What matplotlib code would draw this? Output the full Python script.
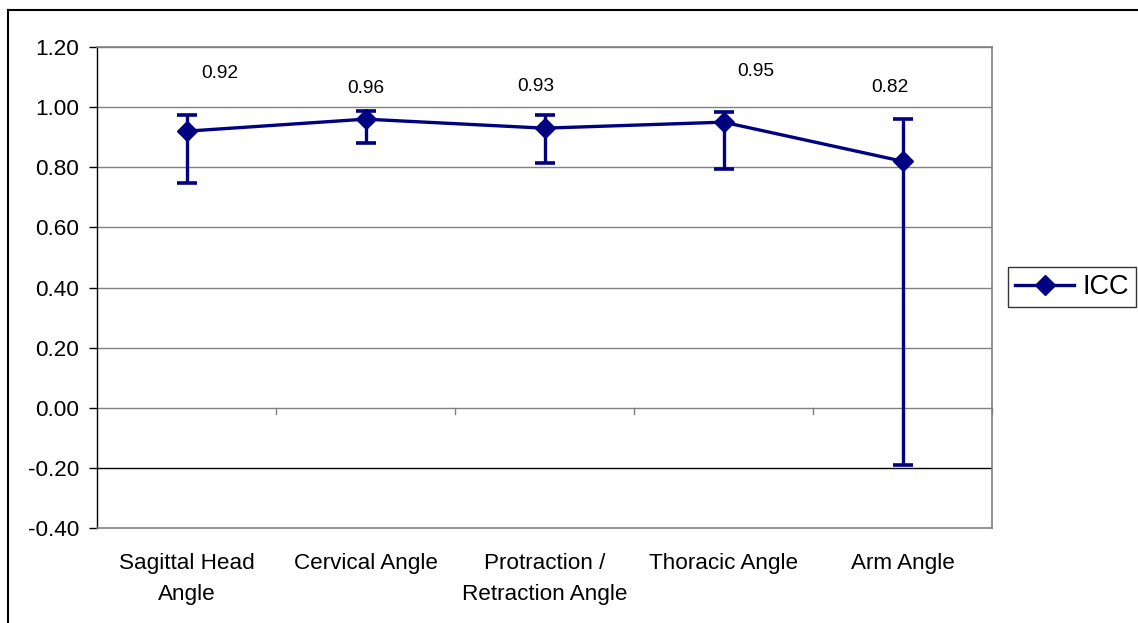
import matplotlib
matplotlib.use("Agg")
import matplotlib.pyplot as plt
from matplotlib.lines import Line2D
import numpy as np

plt.rcParams['font.family'] = ['Liberation Sans', 'DejaVu Sans']
plt.rcParams['axes.unicode_minus'] = False

categories = ["Sagittal Head\nAngle", "Cervical Angle", "Protraction /\nRetraction Angle",
              "Thoracic Angle", "Arm Angle"]
icc = [0.92, 0.96, 0.93, 0.95, 0.82]
ci_upper = [0.974, 0.988, 0.974, 0.983, 0.959]
ci_lower = [0.748, 0.881, 0.813, 0.795, -0.19]
value_labels = ["0.92", "0.96", "0.93", "0.95", "0.82"]
yticks = [-0.40, -0.20, 0.00, 0.20, 0.40, 0.60, 0.80, 1.00, 1.20]

# label placement (layout only)
label_y = [1.112, 1.062, 1.070, 1.117, 1.065]
label_dx = [0.185, 0.0, -0.05, 0.18, -0.07]

navy = "#000080"

fig = plt.figure(figsize=(11.38, 6.23), dpi=100)
ax = fig.add_axes([97/1138, 1-528/623, (992-97)/1138, (528-47)/623])

x = np.arange(len(categories))
yerr = [np.array(icc) - np.array(ci_lower), np.array(ci_upper) - np.array(icc)]

for yv in yticks:
    if yv in (-0.40,):
        continue
    ax.axhline(yv, color="#000000" if yv == -0.20 else "#808080", lw=1.0, zorder=1)

ax.errorbar(x, icc, yerr=yerr, color=navy, lw=2.4, marker='D', markersize=10,
            capsize=7, capthick=2.6, elinewidth=2.4, zorder=3, label="ICC")

for xi, lab, ly, dx in zip(x, value_labels, label_y, label_dx):
    ax.text(xi + dx, ly, lab, ha='center', va='center', fontsize=13.8, color='black')

# category tick marks on axis at 0
for b in np.arange(0.5, len(categories), 1.0):
    ax.plot([b, b], [0, -0.02], color="#808080", lw=1.0, zorder=1, clip_on=False)

ax.set_xlim(-0.5, len(categories) - 0.5)
ax.set_ylim(-0.40, 1.20)
ax.set_yticks(yticks)
ax.set_yticklabels([f"{v:.2f}" for v in yticks], fontsize=16.2)
ax.set_xticks(x)
ax.set_xticklabels(categories, fontsize=16.2, linespacing=1.6)
ax.tick_params(axis='x', length=0, pad=18)
ax.tick_params(axis='y', length=6, width=1.0, pad=7, color='black', direction='out')

for side in ('top', 'right', 'bottom'):
    ax.spines[side].set_color("#808080")
    ax.spines[side].set_linewidth(1.2)
ax.spines['left'].set_color('black')
ax.spines['left'].set_linewidth(1.0)

handles = [Line2D([0], [0], color=navy, lw=2.4, marker='D', markersize=10)]
leg = fig.legend(handles, ["ICC"], loc='center', bbox_to_anchor=(1072/1138, 1-287/623),
                 fontsize=19.5, frameon=True, fancybox=False, handlelength=2.2,
                 handletextpad=0.3, borderpad=0.25, borderaxespad=0)
leg.get_frame().set_edgecolor('black')
leg.get_frame().set_linewidth(1.0)

# outer chart frame
fig.add_artist(Line2D([8/1138, 8/1138], [0, 1-10/623], color='black', lw=1.5, transform=fig.transFigure))
fig.add_artist(Line2D([8/1138, 1], [1-10/623, 1-10/623], color='black', lw=1.5, transform=fig.transFigure))

fig.savefig("out.png", dpi=100)
